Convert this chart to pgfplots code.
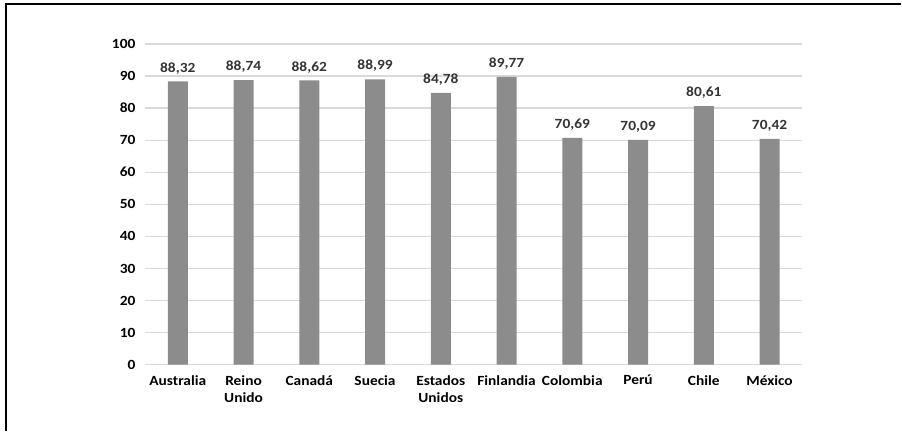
\documentclass[border=0pt]{standalone}
\usepackage{pgfplots}
\pgfplotsset{compat=1.18}
\usepackage{fontspec}
\setmainfont{Carlito}[FakeStretch=1.1]

\definecolor{barcol}{HTML}{8C8C8C}
\definecolor{gridcol}{HTML}{D9D9D9}
\definecolor{valcol}{HTML}{333333}

\begin{document}
\begin{tikzpicture}[x=1pt,y=1pt]
\path (0,0) rectangle (902,431);
\draw[line width=1.3pt] (6,0) -- (6,427) -- (902,427);
\begin{axis}[
    at={(145pt,66pt)}, anchor=south west,
    scale only axis,
    width=658pt, height=321pt,
    ybar, bar width=20pt,
    xmin=-0.5, xmax=9.5,
    ymin=0, ymax=100,
    ytick={0,10,...,100},
    xtick=data,
    xticklabels={Australia,Reino\\Unido,Canadá,Suecia,Estados\\Unidos,Finlandia,Colombia,Perú,Chile,México},
    font=\bfseries\fontsize{14}{17}\selectfont,
    xticklabel style={align=center, yshift=-7pt},
    yticklabel style={xshift=-6pt},
    /pgf/number format/assume math mode=true,
    major tick length=0pt,
    axis line style={draw=none},
    ymajorgrids=true,
    grid style={gridcol, line width=1.3pt},
    nodes near coords={\pgfmathprintnumber[fixed,precision=2,fixed zerofill,use comma]{\pgfplotspointmeta}},
    nodes near coords style={valcol, anchor=south, yshift=4pt},
]
\addplot[fill=barcol, draw=none] coordinates {
  (0,88.32) (1,88.74) (2,88.62) (3,88.99) (4,84.78)
  (5,89.77) (6,70.69) (7,70.09) (8,80.61) (9,70.42)
};
\end{axis}
\end{tikzpicture}
\end{document}
